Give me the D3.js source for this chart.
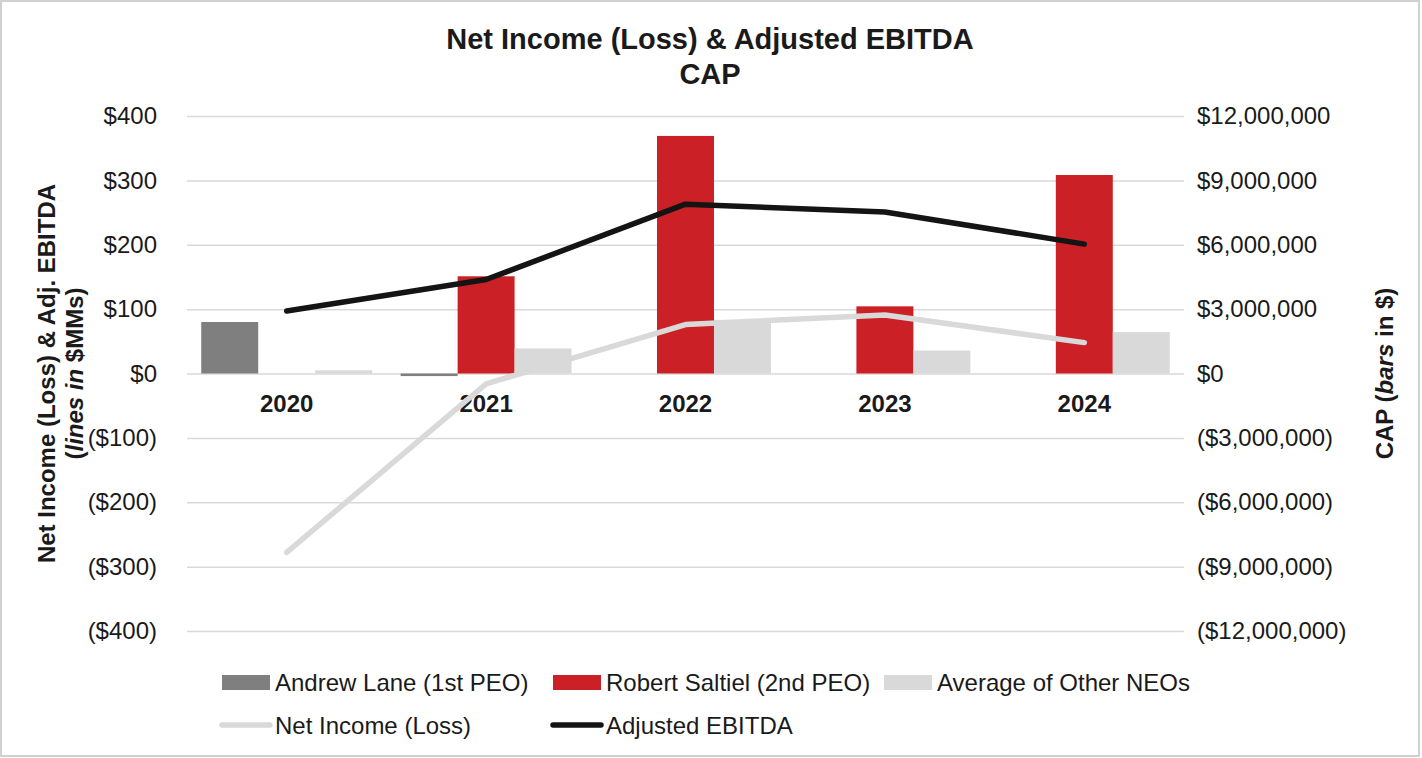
<!DOCTYPE html>
<html>
<head>
<meta charset="utf-8">
<script src="https://cdn.jsdelivr.net/npm/d3@7"></script>
<style>
  html, body { margin: 0; padding: 0; background: #fff; }
  svg { display: block; font-family: "Liberation Sans", Arial, sans-serif; }
</style>
</head>
<body>
<svg id="chart" width="1422" height="758"></svg>
<script>
// ---- Data ----
const years = ["2020", "2021", "2022", "2023", "2024"];
const andrewLaneCAP = [2400000, -120000, null, null, null];
const robertSaltielCAP = [null, 4530000, 11070000, 3130000, 9250000];
const avgOtherNEOsCAP = [150000, 1170000, 2500000, 1070000, 1930000];
const netIncome = [-278, -16, 76, 91, 48];
const adjustedEBITDA = [97, 146, 263, 251, 201];
const leftTicks = [-400, -300, -200, -100, 0, 100, 200, 300, 400];
const rightTicks = [-12000000, -9000000, -6000000, -3000000, 0, 3000000, 6000000, 9000000, 12000000];
const barSeries = ["Andrew Lane (1st PEO)", "Robert Saltiel (2nd PEO)", "Average of Other NEOs"];
const lineSeries = ["Net Income (Loss)", "Adjusted EBITDA"];

const barColors = ["#7f7f7f", "#cc2027", "#d9d9d9"];
const lineColors = ["#d9d9d9", "#141414"];
const textColor = "#1a1a1a";

const svg = d3.select("#chart");
const W = 1422, H = 758;

// border
svg.append("rect").attr("x", 1).attr("y", 1).attr("width", W - 4).attr("height", H - 3)
  .attr("fill", "#fff").attr("stroke", "#d0d0d0").attr("stroke-width", 2);

const plotL = 187, plotR = 1184, plotT = 116, plotB = 631;

const x0 = d3.scaleBand().domain(years).range([plotL, plotR]).padding(0);
const x1 = d3.scaleBand().domain(barSeries).range([0, x0.bandwidth()]).paddingInner(0).paddingOuter(0.25);
const yL = d3.scaleLinear().domain([-400, 400]).range([plotB, plotT]);
const yR = d3.scaleLinear().domain([-12000000, 12000000]).range([plotB, plotT]);

// gridlines
const grid = svg.append("g").attr("transform", `translate(${plotL},0)`)
  .call(d3.axisLeft(yL).tickValues(leftTicks).tickSize(-(plotR - plotL)).tickFormat(""));
grid.select(".domain").remove();
grid.selectAll("line").attr("stroke", "#d9d9d9").attr("stroke-width", 1.5);

// formats
const fmtL = v => v < 0 ? `($${Math.abs(v)})` : `$${v}`;
const comma = d3.format(",");
const fmtR = v => v < 0 ? `($${comma(Math.abs(v))})` : `$${comma(v)}`;

// left axis labels
const axL = svg.append("g").attr("transform", `translate(${plotL},0)`)
  .call(d3.axisLeft(yL).tickValues(leftTicks).tickSize(0).tickPadding(30).tickFormat(fmtL));
axL.select(".domain").remove();
axL.selectAll("text").attr("font-size", 24).attr("fill", textColor)
  .attr("font-family", "Liberation Sans, Arial, sans-serif");

// right axis labels
const axR = svg.append("g").attr("transform", `translate(${plotR},0)`)
  .call(d3.axisRight(yR).tickValues(rightTicks).tickSize(0).tickPadding(13).tickFormat(fmtR));
axR.select(".domain").remove();
axR.selectAll("text").attr("font-size", 24).attr("fill", textColor)
  .attr("font-family", "Liberation Sans, Arial, sans-serif");

// bars
const barData = [andrewLaneCAP, robertSaltielCAP, avgOtherNEOsCAP];
barData.forEach((arr, si) => {
  svg.append("g").selectAll("rect")
    .data(years.map((yr, i) => ({ yr, v: arr[i] })).filter(d => d.v !== null))
    .join("rect")
    .attr("x", d => x0(d.yr) + x1(barSeries[si]))
    .attr("width", x1.bandwidth())
    .attr("y", d => yR(Math.max(0, d.v)))
    .attr("height", d => Math.abs(yR(d.v) - yR(0)))
    .attr("fill", barColors[si]);
});

// category axis labels
const axX = svg.append("g").attr("transform", `translate(0,${yL(0)})`)
  .call(d3.axisBottom(x0).tickSize(0).tickPadding(21));
axX.select(".domain").remove();
axX.selectAll("text").attr("font-size", 24).attr("font-weight", "bold").attr("fill", textColor)
  .attr("font-family", "Liberation Sans, Arial, sans-serif");

// lines
const cx = yr => x0(yr) + x0.bandwidth() / 2;
const lineGen = d3.line().x((d, i) => cx(years[i])).y(d => yL(d));
[netIncome, adjustedEBITDA].forEach((arr, si) => {
  svg.append("path").datum(arr).attr("d", lineGen)
    .attr("fill", "none").attr("stroke", lineColors[si]).attr("stroke-width", 5.5)
    .attr("stroke-linejoin", "round").attr("stroke-linecap", "round");
});

// title
const title = svg.append("text").attr("x", 710).attr("y", 49).attr("text-anchor", "middle")
  .attr("font-size", 29).attr("font-weight", "bold").attr("fill", textColor);
title.append("tspan").attr("x", 710).text("Net Income (Loss) & Adjusted EBITDA");
title.append("tspan").attr("x", 710).attr("dy", 35).text("CAP");

// left axis title
const lt = svg.append("text").attr("transform", `translate(55,${yL(0)}) rotate(-90)`)
  .attr("text-anchor", "middle").attr("font-size", 24).attr("font-weight", "bold").attr("fill", textColor);
lt.append("tspan").attr("x", 0).attr("y", 0).text("Net Income (Loss) & Adj. EBITDA");
const lt2 = svg.append("text").attr("transform", `translate(83,${yL(0)}) rotate(-90)`)
  .attr("text-anchor", "middle").attr("font-size", 24).attr("font-weight", "bold").attr("fill", textColor);
lt2.append("tspan").text("(");
lt2.append("tspan").attr("font-style", "italic").text("lines in");
lt2.append("tspan").text(" $MMs)");

// right axis title
const rt = svg.append("text").attr("transform", `translate(1393,${yL(0)}) rotate(-90)`)
  .attr("text-anchor", "middle").attr("font-size", 24).attr("font-weight", "bold").attr("fill", textColor);
rt.append("tspan").text("CAP (");
rt.append("tspan").attr("font-style", "italic").text("bars");
rt.append("tspan").text(" in $)");

// legend
const legX = [222, 553, 884];
const leg = svg.append("g");
barSeries.forEach((name, i) => {
  leg.append("rect").attr("x", legX[i]).attr("y", 675).attr("width", 48).attr("height", 15).attr("fill", barColors[i]);
  leg.append("text").attr("x", legX[i] + 53).attr("y", 691).attr("font-size", 24).attr("fill", textColor).text(name);
});
lineSeries.forEach((name, i) => {
  leg.append("line").attr("x1", legX[i]).attr("x2", legX[i] + 48).attr("y1", 725).attr("y2", 725)
    .attr("stroke", lineColors[i]).attr("stroke-width", 5.5).attr("stroke-linecap", "round");
  leg.append("text").attr("x", legX[i] + 53).attr("y", 734).attr("font-size", 24).attr("fill", textColor).text(name);
});
</script>
</body>
</html>
